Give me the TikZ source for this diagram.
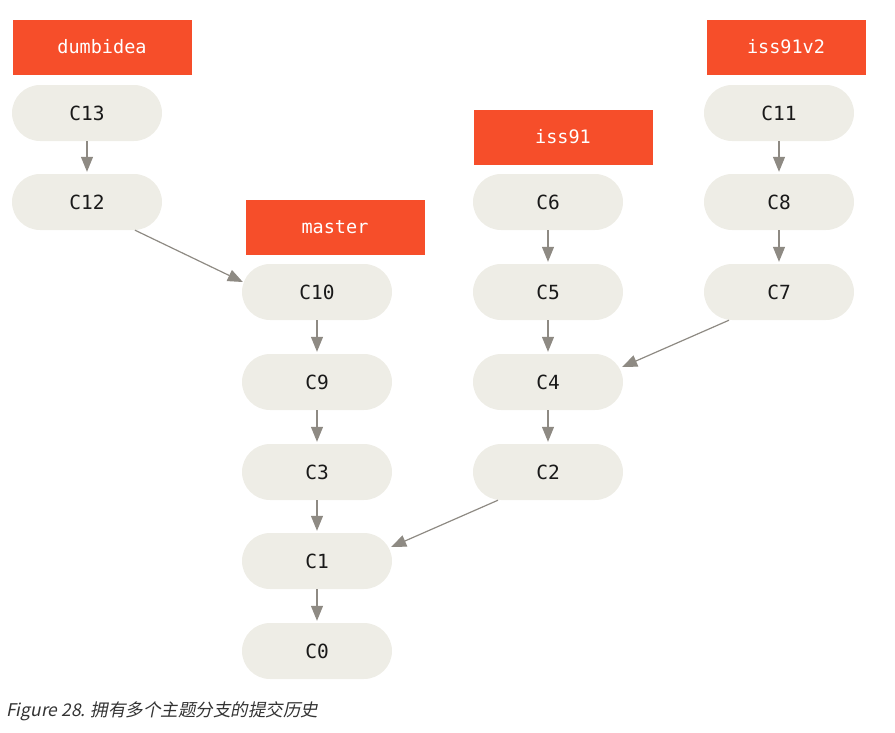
\documentclass[tikz,border=0pt]{standalone}
\usepackage{fontspec}
\setmonofont{DejaVu Sans Mono}
\newfontfamily\cjk[FakeSlant=0.2]{Noto Sans CJK SC}
\usetikzlibrary{arrows.meta}
\definecolor{branchred}{HTML}{F64E2A}
\definecolor{commitfill}{HTML}{EEEDE6}
\definecolor{arrowgray}{HTML}{8E8A83}
\definecolor{captiongray}{HTML}{333333}
\tikzset{
  commit/.style={rectangle, rounded corners=28pt, fill=commitfill, minimum width=150pt, minimum height=56pt, inner sep=0pt, font=\ttfamily\fontsize{19.5}{22}\selectfont, text=black!90},
  branch/.style={rectangle, fill=branchred, minimum width=179pt, minimum height=55pt, inner sep=0pt, font=\ttfamily\fontsize{18.5}{22}\selectfont, text=white},
  link/.style={draw=arrowgray, line width=1.2pt, -{Triangle[length=15pt,width=12pt]}}
}
\begin{document}
\begin{tikzpicture}[x=1pt,y=-1pt]
\useasboundingbox (0,0) rectangle (895,732);
% column 1
\node[branch] (dumbidea) at (102,47) {dumbidea};
\node[commit] (C13) at (87,113) {C13};
\node[commit] (C12) at (87,202) {C12};
% column 2
\node[branch] (master) at (335,227) {master};
\node[commit] (C10) at (317,292) {C10};
\node[commit] (C9) at (317,382) {C9};
\node[commit] (C3) at (317,472) {C3};
\node[commit] (C1) at (317,561) {C1};
\node[commit] (C0) at (317,651) {C0};
% column 3
\node[branch] (iss91) at (563,137) {iss91};
\node[commit] (C6) at (548,202) {C6};
\node[commit] (C5) at (548,292) {C5};
\node[commit] (C4) at (548,382) {C4};
\node[commit] (C2) at (548,472) {C2};
% column 4
\node[branch, minimum width=159pt] (iss91v2) at (786,47) {iss91v2};
\node[commit] (C11) at (779,113) {C11};
\node[commit] (C8) at (779,202) {C8};
\node[commit] (C7) at (779,292) {C7};
% vertical links
\draw[link] (C13.south) -- ([yshift=2pt]C12.north);
\draw[link] (C10.south) -- ([yshift=2pt]C9.north);
\draw[link] (C9.south) -- ([yshift=2pt]C3.north);
\draw[link] (C3.south) -- ([yshift=2pt]C1.north);
\draw[link] (C1.south) -- ([yshift=2pt]C0.north);
\draw[link] (C6.south) -- ([yshift=2pt]C5.north);
\draw[link] (C5.south) -- ([yshift=2pt]C4.north);
\draw[link] (C4.south) -- ([yshift=2pt]C2.north);
\draw[link] (C11.south) -- ([yshift=2pt]C8.north);
\draw[link] (C8.south) -- ([yshift=2pt]C7.north);
% diagonal links
\draw[link] ([xshift=48pt]C12.south) -- ([xshift=1pt,yshift=10pt]C10.west);
\draw[link] ([xshift=-50pt]C7.south) -- ([xshift=-1pt,yshift=15pt]C4.east);
\draw[link] ([xshift=-50pt]C2.south) -- ([xshift=-1pt,yshift=14pt]C1.east);
% caption
\node[anchor=west, inner sep=0pt, text=captiongray, font=\cjk\fontsize{17.5}{20}\selectfont] (caption) at (6,711) {Figure 28. 拥有多个主题分支的提交历史};
\end{tikzpicture}
\end{document}
